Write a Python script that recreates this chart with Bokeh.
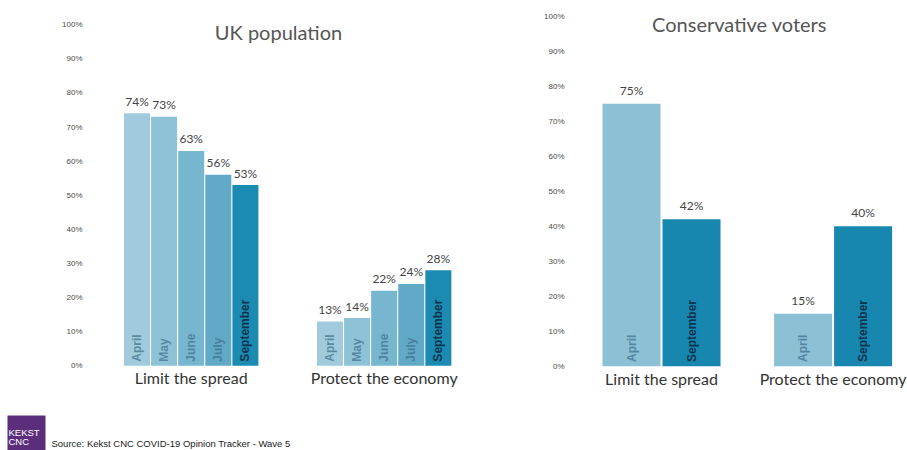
import math
from bokeh.plotting import figure
from bokeh.layouts import column, row
from bokeh.models import Range1d, FixedTicker, PrintfTickFormatter, Label, BoxAnnotation
from bokeh.core.properties import value
from bokeh.embed import file_html
from bokeh.resources import INLINE

# ---------------- data ----------------
groups = ["Limit the spread", "Protect the economy"]
uk_months = ["April", "May", "June", "July", "September"]
uk_limit = [74, 73, 63, 56, 53]
uk_protect = [13, 14, 22, 24, 28]
con_months = ["April", "September"]
con_limit = [75, 42]
con_protect = [15, 40]
y_ticks = [0, 10, 20, 30, 40, 50, 60, 70, 80, 90, 100]
titles = ["UK population", "Conservative voters"]
source_text = "Source: Kekst CNC COVID-19 Opinion Tracker - Wave 5"

# ---------------- styles ----------------
uk_colors = ["#a1cbdc", "#8ec2d6", "#77b6cf", "#60a9c7", "#1b8bb2"]
con_colors = ["#8bc0d5", "#1887af"]
month_light = "#3d6d8a"
month_dark = "#0c3550"
FONT = value("Lato")


def panel(title, months, limit, protect, colors, width, border_left, xr, yr,
          group_offset, bar_w, title_xy, val_off):
    p = figure(width=width, height=400, output_backend="svg", toolbar_location=None,
               title=None, x_axis_location=None, x_range=Range1d(*xr), y_range=Range1d(*yr),
               min_border_left=border_left, min_border_right=0, min_border_top=0,
               min_border_bottom=0)
    p.outline_line_color = None
    p.xgrid.visible = False
    p.ygrid.visible = False
    ax = p.yaxis[0]
    ax.ticker = FixedTicker(ticks=y_ticks)
    ax.formatter = PrintfTickFormatter(format="%d%%")
    ax.axis_line_color = None
    ax.major_tick_line_color = None
    ax.minor_tick_line_color = None
    ax.major_label_text_font = "Liberation Sans"
    ax.major_label_text_font_size = "8px"
    ax.major_label_text_color = "#4a4a4a"
    ax.major_label_standoff = 4

    n = len(months)
    for g, vals in enumerate([limit, protect]):
        xs = [g * group_offset + i for i in range(n)]
        p.vbar(x=xs, top=vals, bottom=0, width=bar_w, fill_color=colors, line_color=None)
        p.text(x=xs, y=[v + val_off for v in vals], text=[f"{v}%" for v in vals],
               text_font=FONT, text_font_size="12px", text_color="#444444",
               text_align="center", text_baseline="bottom")
        mcols = [month_dark if m == "September" else month_light for m in months]
        p.text(x=xs, y=[1.2] * n, text=months, angle=math.pi / 2,
               text_font=value("Liberation Sans"), text_font_style="bold",
               text_font_size="12px", text_color=mcols,
               text_alpha=[1.0 if m == "September" else 0.7 for m in months],
               text_align="left", text_baseline="middle")
        p.text(x=[g * group_offset + (n - 1) / 2], y=[-3.6], text=[groups[g]],
               text_font=FONT, text_font_size="16px", text_color="#333333",
               text_align="center", text_baseline="middle")
    p.text(x=[title_xy[0]], y=[title_xy[1]], text=[title], text_font=FONT,
           text_font_size="20px", text_color="#555555", text_align="center",
           text_baseline="middle")
    return p


left = panel(titles[0], uk_months, uk_limit, uk_protect, uk_colors, 478, 92,
             (-1.642, 12.601), (-10.2, 107.1), 7.12, 0.96, (5.22, 98.0), 1.3)
right = panel(titles[1], con_months, con_limit, con_protect, con_colors, 429, 96,
              (-0.95, 4.6), (-9.8, 104.5), 2.86, 0.967, (1.8, 97.8), 1.7)

footer = figure(width=907, height=50, output_backend="svg", toolbar_location=None,
                title=None, x_axis_location=None, y_axis_location=None,
                x_range=Range1d(0, 907), y_range=Range1d(0, 50),
                min_border_left=0, min_border_right=0, min_border_top=0, min_border_bottom=0)
footer.outline_line_color = None
footer.xgrid.visible = False
footer.ygrid.visible = False
footer.add_layout(BoxAnnotation(left=7, right=45, bottom=-5, top=35,
                                fill_color="#5b2e7c", fill_alpha=1.0, line_color=None))
footer.add_layout(Label(x=8, y=18.5, text="KEKST", text_color="white", text_font="Liberation Sans",
                        text_font_size="9.5px", text_baseline="middle"))
footer.add_layout(Label(x=8, y=9.5, text="CNC", text_color="white", text_font="Liberation Sans",
                        text_font_size="9.5px", text_baseline="middle"))
footer.add_layout(Label(x=51, y=7, text=source_text, text_color="#222222",
                        text_font="Liberation Sans", text_font_size="9.5px",
                        text_baseline="middle"))

layout = column(row(left, right), footer)
open("out.html", "w").write(file_html(layout, INLINE))
